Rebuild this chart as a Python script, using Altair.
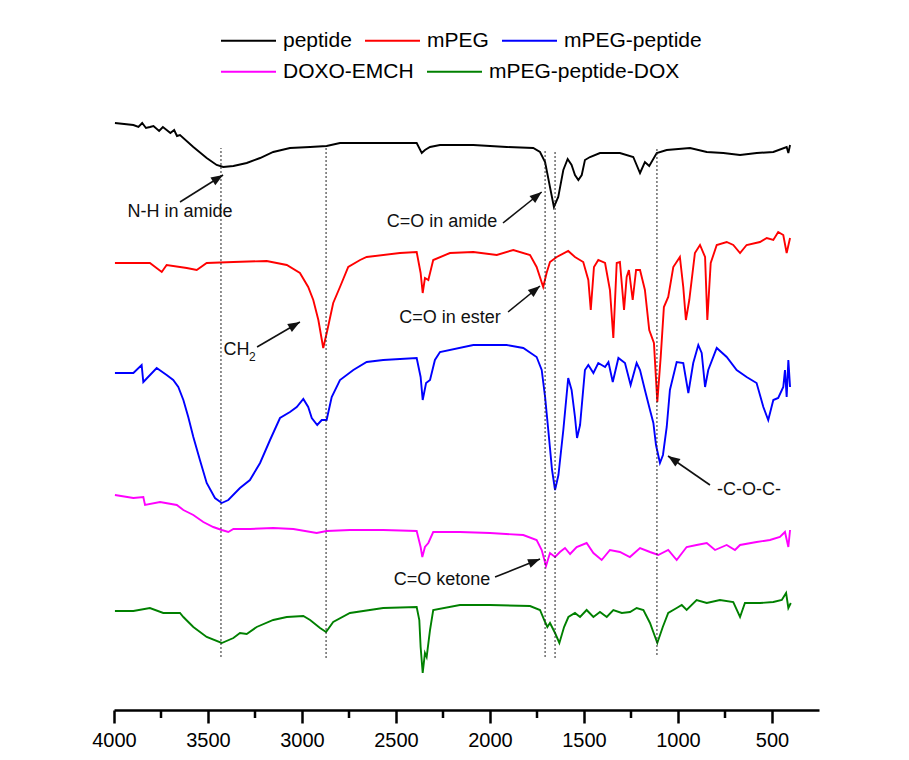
import math
import altair as alt
import pandas as pd

# ---------------- data ----------------
series_names = ["peptide", "mPEG", "mPEG-peptide", "DOXO-EMCH", "mPEG-peptide-DOX"]
series_colors = ["#000000", "#ff0000", "#0000ff", "#ff00ff", "#008000"]
legend_row1 = series_names[:3]
legend_row2 = series_names[3:]

peptide_w = [3995, 3897, 3870, 3850, 3830, 3809, 3790, 3760, 3740, 3720, 3700, 3680, 3665, 3649,
             3578, 3507, 3454, 3419, 3365, 3294, 3223, 3153, 3064, 2957, 2869, 2798, 2656, 2479,
             2390, 2363, 2346, 2319, 2266, 2089, 1911, 1770, 1734, 1707, 1681, 1660, 1637, 1610,
             1587, 1566, 1548, 1530, 1512, 1495, 1468, 1415, 1309, 1238, 1202, 1176, 1153, 1113,
             1060, 936, 847, 759, 670, 581, 493, 422, 413, 404]
peptide_v = [587, 585, 583, 587, 582, 583, 584, 579, 583, 580, 577, 580, 574, 575,
             563, 552, 545, 543, 544, 547, 552, 558, 562, 563, 564, 567, 567, 567,
             567, 557, 560, 563, 565, 565, 563, 562, 558, 548, 523, 503, 513, 540,
             551, 545, 535, 530, 535, 550, 553, 557, 557, 553, 537, 548, 544, 557,
             560, 562, 558, 557, 555, 557, 558, 563, 557, 565]

mpeg_w = [3995, 3897, 3809, 3746, 3720, 3613, 3560, 3507, 3365, 3188, 3081, 3011, 2967, 2940,
          2913, 2887, 2865, 2834, 2798, 2754, 2691, 2656, 2479, 2390, 2369, 2358, 2346, 2328,
          2302, 2213, 2089, 1964, 1876, 1787, 1752, 1717, 1699, 1681, 1645, 1584, 1548, 1504,
          1477, 1464, 1447, 1424, 1388, 1362, 1344, 1326, 1309, 1287, 1273, 1261, 1241, 1223,
          1202, 1176, 1153, 1128, 1110, 1092, 1075, 1052, 1025, 990, 972, 958, 940, 910, 883,
          856, 844, 826, 794, 741, 706, 670, 635, 564, 528, 493, 467, 440, 422, 404]
mpeg_v = [447, 447, 447, 438, 445, 442, 440, 447, 448, 449, 445, 437, 423, 410,
          390, 362, 380, 407, 423, 443, 450, 453, 457, 458, 437, 417, 432, 430,
          450, 457, 458, 455, 460, 455, 443, 423, 437, 448, 453, 459, 453, 448,
          430, 400, 443, 450, 447, 420, 372, 447, 448, 400, 433, 440, 410, 440,
          440, 420, 380, 367, 308, 353, 403, 413, 443, 453, 423, 390, 410, 457, 465,
          453, 390, 447, 465, 468, 465, 457, 465, 468, 472, 470, 478, 475, 457, 472]

mpeg_pep_w = [3995, 3897, 3853, 3844, 3773, 3720, 3685, 3658, 3631, 3605, 3578, 3543, 3507, 3463,
              3427, 3392, 3330, 3277, 3223, 3170, 3117, 3064, 3028, 2993, 2967, 2948, 2919, 2895,
              2869, 2842, 2798, 2727, 2656, 2568, 2390, 2369, 2358, 2340, 2319, 2293, 2266, 2089,
              1911, 1823, 1752, 1725, 1707, 1690, 1670, 1654, 1636, 1610, 1584, 1566, 1548, 1537,
              1521, 1495, 1477, 1450, 1424, 1388, 1370, 1347, 1317, 1282, 1252, 1220, 1202, 1176,
              1149, 1131, 1117, 1096, 1080, 1060, 1043, 1007, 972, 945, 919, 892, 874, 856, 839,
              794, 741, 688, 635, 582, 546, 520, 493, 467, 440, 431, 422, 413, 404]
mpeg_pep_v = [337, 337, 345, 328, 342, 335, 330, 323, 310, 293, 273, 250, 227, 212,
              207, 210, 222, 230, 247, 270, 292, 298, 303, 311, 303, 292, 285, 290,
              290, 313, 330, 340, 348, 350, 352, 333, 310, 327, 330, 350, 358, 365,
              365, 362, 353, 340, 313, 280, 240, 220, 235, 280, 332, 320, 293, 272,
              285, 340, 345, 337, 347, 343, 348, 328, 352, 347, 325, 347, 340, 320,
              300, 287, 265, 247, 255, 283, 320, 348, 347, 317, 347, 365, 357, 323, 340,
              362, 353, 340, 333, 327, 303, 290, 310, 312, 323, 340, 313, 350, 323]

doxo_w = [3995, 3897, 3844, 3835, 3755, 3666, 3631, 3578, 3525, 3472, 3427, 3392, 3365, 3277,
          3153, 3046, 2922, 2869, 2745, 2568, 2390, 2369, 2360, 2346, 2328, 2302, 2160, 2000,
          1823, 1752, 1725, 1702, 1681, 1654, 1628, 1601, 1574, 1539, 1486, 1450, 1406, 1362,
          1309, 1256, 1202, 1149, 1105, 1052, 1007, 954, 901, 847, 803, 741, 697, 670, 582,
          511, 458, 431, 413, 404]
doxo_v = [215, 212, 213, 205, 208, 205, 200, 195, 188, 183, 180, 178, 181, 181,
          182, 181, 177, 179, 180, 180, 179, 163, 153, 163, 167, 178, 178, 177,
          175, 170, 160, 144, 157, 153, 158, 162, 156, 163, 167, 157, 150, 160,
          158, 153, 162, 158, 155, 160, 150, 163, 165, 167, 160, 165, 160, 165, 168,
          170, 173, 178, 163, 180]

dox_conj_w = [3995, 3897, 3809, 3738, 3649, 3631, 3578, 3507, 3427, 3365, 3330, 3294, 3241, 3153,
              3081, 2993, 2957, 2904, 2872, 2834, 2745, 2568, 2390, 2376, 2369, 2358, 2346, 2337,
              2319, 2302, 2160, 2000, 1787, 1734, 1707, 1695, 1681, 1654, 1631, 1606, 1583, 1548,
              1521, 1486, 1450, 1415, 1379, 1344, 1299, 1255, 1220, 1184, 1149, 1110, 1081, 1052,
              1007, 980, 954, 901, 847, 777, 706, 670, 644, 564, 493, 448, 425, 413, 400]
dox_conj_v = [99, 99, 102, 97, 97, 93, 83, 73, 67, 72, 77, 76, 83, 90,
              93, 94, 90, 82, 78, 88, 97, 102, 103, 90, 63, 37, 57, 53,
              80, 100, 105, 105, 104, 100, 88, 83, 87, 77, 67, 83, 93, 97,
              93, 100, 93, 98, 93, 100, 97, 98, 102, 100, 87, 67, 83, 97,
              102, 105, 100, 110, 107, 110, 108, 93, 107, 107, 108, 110, 117, 102, 107]

# dotted guide lines (wavenumber, lower and upper value)
guide_w = [3431, 2872, 1707, 1654, 1112]
guide_lo = [53, 52, 53, 52, 55]
guide_hi = [562, 563, 561, 560, 562]

# annotation texts
note_text = ["N-H in amide", "C=O in amide", "CH", "C=O in ester", "-C-O-C-", "C=O ketone"]
note_w = [3649, 2255, 3349, 2213, 622, 2255]
note_v = [498, 488, 360, 392, 220, 130]
sub_text = ["2"]
sub_w = [3264]
sub_v = [353]

# arrows: tail (w, v) -> head (w2, v2)
arrow_w = [3649, 1931, 3239, 1904, 830, 1973]
arrow_v = [508, 487, 363, 398, 225, 133]
arrow_w2 = [3420, 1725, 3011, 1734, 1053, 1734]
arrow_v2 = [535, 518, 388, 424, 254, 151]

tick_major = [4000, 3500, 3000, 2500, 2000, 1500, 1000, 500]
tick_minor = [3750, 3250, 2750, 2250, 1750, 1250, 750]

# ---------------- tables ----------------
rows = []
for name, ws, vs in zip(series_names,
                        [peptide_w, mpeg_w, mpeg_pep_w, doxo_w, dox_conj_w],
                        [peptide_v, mpeg_v, mpeg_pep_v, doxo_v, dox_conj_v]):
    for i, (w, v) in enumerate(zip(ws, vs)):
        rows.append({"series": name, "w": w, "v": v, "i": i})
spectra = pd.DataFrame(rows)
spectra_a = spectra[spectra["series"].isin(legend_row1)]
spectra_b = spectra[spectra["series"].isin(legend_row2)]

X_DOMAIN = [4000, 250]
Y_DOMAIN = [0, 600]
W, H = 705, 600
sx = W / abs(X_DOMAIN[0] - X_DOMAIN[1])
sy = H / (Y_DOMAIN[1] - Y_DOMAIN[0])

angles = []
for w, v, w2, v2 in zip(arrow_w, arrow_v, arrow_w2, arrow_v2):
    dx = -(w2 - w) * sx
    dy = -(v2 - v) * sy
    angles.append(math.degrees(math.atan2(dx, -dy)) % 360)

arrows = pd.DataFrame({"w": arrow_w, "v": arrow_v, "w2": arrow_w2, "v2": arrow_v2, "angle": angles})
guides = pd.DataFrame({"w": guide_w, "v": guide_lo, "v2": guide_hi})
notes = pd.DataFrame({"label": note_text, "w": note_w, "v": note_v})
subs = pd.DataFrame({"label": sub_text, "w": sub_w, "v": sub_v})
minor = pd.DataFrame({"w": tick_minor})

FONT = "Liberation Sans"
x_scale = alt.Scale(domain=X_DOMAIN, nice=False, zero=False)
y_scale = alt.Scale(domain=Y_DOMAIN, nice=False, zero=False)
x_axis = alt.Axis(values=tick_major, title=None, grid=False, labelFont=FONT, labelFontSize=20,
                  labelColor="black", labelFlush=False, labelOverlap=False, labelPadding=7,
                  domainColor="black", domainWidth=2.5, tickColor="black", tickWidth=2.5,
                  tickSize=13, format="d")


def X(field="w:Q"):
    return alt.X(field, scale=x_scale, axis=x_axis)


def Y(field="v:Q"):
    return alt.Y(field, scale=y_scale, axis=None)


def legend_row(y):
    return alt.Legend(title=None, orient="none", legendX=106, legendY=y,
                      direction="horizontal", symbolType="stroke", symbolSize=3025,
                      symbolStrokeWidth=2, labelFont=FONT, labelFontSize=21,
                      labelColor="black", labelOffset=6, columnPadding=9,
                      padding=0, labelLimit=0)


lines_a = alt.Chart(spectra_a).mark_line(strokeWidth=1.9).encode(
    x=X(), y=Y(),
    color=alt.Color("series:N",
                    scale=alt.Scale(domain=legend_row1, range=series_colors[:3]),
                    legend=legend_row(-98)),
    order="i:Q",
)

lines_b = alt.Chart(spectra_b).mark_line(strokeWidth=1.9).encode(
    x=X(), y=Y(),
    stroke=alt.Stroke("series:N",
                      scale=alt.Scale(domain=legend_row2, range=series_colors[3:]),
                      legend=legend_row(-67)),
    order="i:Q",
)

guide_layer = alt.Chart(guides).mark_rule(strokeDash=[2, 2], strokeWidth=1, color="#222222").encode(
    x=X(), y=Y(), y2="v2:Q")

note_layer = alt.Chart(notes).mark_text(font=FONT, fontSize=18, color="#111111",
                                        align="center", baseline="middle").encode(
    x=X(), y=Y(), text="label:N")

sub_layer = alt.Chart(subs).mark_text(font=FONT, fontSize=12, color="#111111",
                                      align="center", baseline="middle").encode(
    x=X(), y=Y(), text="label:N")

arrow_layer = alt.Chart(arrows).mark_rule(strokeWidth=1.6, color="#111111").encode(
    x=X(), y=Y(), x2="w2:Q", y2="v2:Q")

head_layer = alt.Chart(arrows).mark_point(shape="M0,0L-0.38,1L0.38,1Z", filled=True, size=576,
                                          color="#111111", opacity=1, strokeWidth=0).encode(
    x=X("w2:Q"), y=Y("v2:Q"), angle=alt.Angle("angle:Q", scale=None))

minor_layer = alt.Chart(minor).mark_rule(strokeWidth=2.5, color="black").encode(
    x=X(), y=alt.value(H), y2=alt.value(H + 8))

chart = alt.layer(lines_b, lines_a, guide_layer, note_layer, sub_layer, arrow_layer, head_layer,
                  minor_layer).properties(
    width=W, height=H,
    padding={"left": 106, "top": 102, "right": 60, "bottom": 44},
    autosize=alt.AutoSizeParams(type="none"),
).configure_view(stroke=None)

chart.save("out.html", embed_options={"renderer": "svg", "actions": False})
